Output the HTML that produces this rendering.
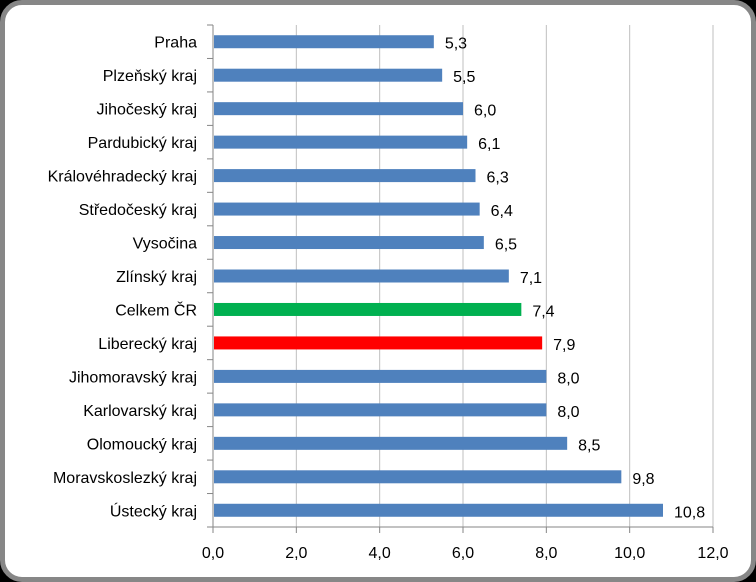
<!DOCTYPE html>
<html><head><meta charset="utf-8"><style>
html,body{margin:0;padding:0;background:#000;}
#frame{position:absolute;left:0;top:0;width:746px;height:572px;border:5px solid #878787;border-radius:22px;background:#fff;}
svg{position:absolute;left:0;top:0;}
text{font-family:"Liberation Sans",sans-serif;font-size:16px;fill:#000;}
</style></head><body>
<div id="frame"></div>
<svg id="chart" width="756" height="582"></svg>
<script>
const categories=["Praha","Plzeňský kraj","Jihočeský kraj","Pardubický kraj","Královéhradecký kraj","Středočeský kraj","Vysočina","Zlínský kraj","Celkem ČR","Liberecký kraj","Jihomoravský kraj","Karlovarský kraj","Olomoucký kraj","Moravskoslezký kraj","Ústecký kraj"];
const values=[5.3,5.5,6.0,6.1,6.3,6.4,6.5,7.1,7.4,7.9,8.0,8.0,8.5,9.8,10.8];
const colors=["#4f81bd","#4f81bd","#4f81bd","#4f81bd","#4f81bd","#4f81bd","#4f81bd","#4f81bd","#00b050","#ff0000","#4f81bd","#4f81bd","#4f81bd","#4f81bd","#4f81bd"];
const ticks=[0,2,4,6,8,10,12];
const tickLabels=["0,0","2,0","4,0","6,0","8,0","10,0","12,0"];
const svg=document.getElementById('chart');
const NS='http://www.w3.org/2000/svg';
const x0=213,x1=713,yTop=25,yBot=527,xMax=12;
const band=(yBot-yTop)/categories.length;
function xs(v){return x0+v/xMax*(x1-x0);}
function yc(i){return yTop+band*(i+0.5);}
function mk(t,a){const e=document.createElementNS(NS,t);for(const k in a)e.setAttribute(k,a[k]);svg.appendChild(e);return e;}
ticks.forEach((t,i)=>{
  if(i>0){const g=mk('line',{x1:xs(t),x2:xs(t),y1:yTop,y2:yBot,stroke:'#bfbfbf','stroke-width':1});
  
  }
  const tk=mk('line',{x1:xs(t),x2:xs(t),y1:yBot,y2:yBot+6,stroke:'#868686'});
  
  
  const l=mk('text',{x:xs(t),y:558,'text-anchor':'middle'});l.textContent=tickLabels[i];
  
  
});
for(let i=0;i<=categories.length;i++){
  const tk=mk('line',{x1:x0-6,x2:x0,y1:yTop+band*i,y2:yTop+band*i,stroke:'#868686'});
  
  
}
const ax=mk('line',{x1:x0,x2:x0,y1:yTop,y2:yBot,stroke:'#868686'});


const bx=mk('line',{x1:x0,x2:x1,y1:yBot,y2:yBot,stroke:'#868686'});


categories.forEach((c,i)=>{
  const y=yc(i);
  const b=mk('rect',{x:x0+1,y:y-6.5,width:xs(values[i])-x0-1,height:13,fill:colors[i]});
  
  
  const l=mk('text',{x:x0-16,y:y+6,'text-anchor':'end'});l.textContent=c;
  
  
  const v=mk('text',{x:xs(values[i])+11,y:y+7});v.textContent=values[i].toFixed(1).replace('.',',');
  
  
});
</script>
</body></html>
